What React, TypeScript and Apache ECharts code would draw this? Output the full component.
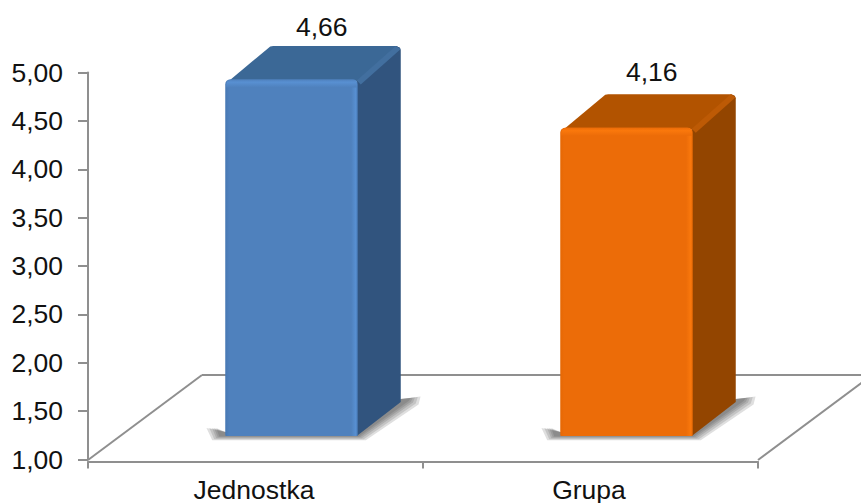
import React, { useEffect, useRef } from "react";
import * as echarts from "echarts";

const categories = ["Jednostka", "Grupa"];
const values = [4.66, 4.16];
const faces = [
  { front: "#4F81BD", light: "#5890D2", dark: "#4778B3", top: "#3B6896", side: "#31547E", edge: "#426F9F" },
  { front: "#EC6C08", light: "#FA780C", dark: "#E56805", top: "#B25300", side: "#934500", edge: "#BD5A05" },
];
const labelNudges = [
  { x: -79, y: -18.5 },
  { x: -84, y: -21.5 },
];

const fmt = (v: number) => v.toFixed(2).replace(".", ",");

const LEFT = 88;
const TOP = 72.5;
const WIDTH = 670;
const HEIGHT = 387;
const FONT = "Liberation Sans";
const FONT_SIZE = 26.5;
const AXIS = "#8F8F8F";

const renderBar = (params: any, api: any) => {
  const i = api.value(0);
  const [cx, y1] = api.coord([i, api.value(1)]);
  const [, y0] = api.coord([i, 1]);
  const w = 132.5;
  const dx = 43;
  const dy = 34;
  const dyTop = 33.5;
  const x0 = cx + 36 - w / 2;
  const x1 = x0 + w;
  const yt = y1 - 26;
  const yb = y0 - 23.5;
  const f = faces[i];
  const poly = (points: number[][], fill: string, extra: any = {}) => ({
    type: "polygon",
    shape: { points },
    style: { fill, ...extra },
  });
  const shadowLayers = [7, 5, 3, 1.5, 0].map((g) =>
    poly(
      [
        [x0 - 9 - g * 1.4, yb - 8],
        [x0 - 6 - g, yb + 0.5 + g * 0.55],
        [x1 + 1 + g, yb + 0.5 + g * 0.55],
        [x1 + dx + 8 + g * 1.4, yb - dy - 1 + g * 0.5],
        [x1 + dx + 10 + g * 1.4, yb - dy - 4 - g * 0.2],
        [x1 + dx, yb - dy - 3],
        [x1, yb - 3],
        [x0, yb - 4],
      ],
      "#444444",
      { opacity: 0.17 }
    )
  );
  return {
    type: "group",
    children: [
      ...shadowLayers,
      poly(
        [
          [x0 + 3, yt + 2],
          [x0 + dx + 2, yt - dyTop + 0.5],
          [x0 + dx + 5, yt - dyTop],
          [x1 + dx - 4, yt - dyTop],
          [x1 + dx - 1, yt - dyTop + 2],
          [x1, yt + 2],
        ],
        f.top
      ),
      poly(
        [
          [x1 - 1, yt + 2],
          [x1 + dx - 4, yt - dyTop + 0.5],
          [x1 + dx - 1, yt - dyTop + 1.5],
          [x1 + dx, yt - dyTop + 4],
          [x1 + dx, yb - dy],
          [x1 - 1, yb],
        ],
        f.side
      ),
      poly(
        [
          [x1 - 1, yt + 1],
          [x1 + dx - 5, yt - dyTop],
          [x1 + dx, yt - dyTop + 3],
          [x1 + 3, yt + 5],
        ],
        f.edge
      ),
      {
        type: "rect",
        shape: { x: x0, y: yt, width: w, height: yb - yt, r: [5, 5, 1, 1] },
        style: {
          fill: new echarts.graphic.LinearGradient(0, 0, 1, 0, [
            { offset: 0, color: f.dark },
            { offset: 0.03, color: f.front },
            { offset: 0.95, color: f.front },
            { offset: 0.985, color: f.light },
            { offset: 1, color: f.dark },
          ]),
        },
      },
      {
        type: "rect",
        shape: { x: x0 + 1, y: yt, width: w - 2, height: 8, r: [5, 5, 0, 0] },
        style: {
          fill: new echarts.graphic.LinearGradient(0, 0, 0, 1, [
            { offset: 0, color: f.front },
            { offset: 0.35, color: f.light },
            { offset: 1, color: f.front },
          ]),
        },
      },
      {
        type: "text",
        style: {
          x: x1 + dx + labelNudges[i].x,
          y: yt - dy + labelNudges[i].y,
          text: fmt(api.value(1)),
          align: "center",
          verticalAlign: "middle",
          font: `${FONT_SIZE}px "${FONT}"`,
          fill: "#111111",
        },
      },
    ],
  };
};

const floorLine = (shape: any) => ({
  type: "line",
  silent: true,
  shape,
  style: { stroke: AXIS, lineWidth: 2 },
});

export default function App() {
  const ref = useRef<HTMLDivElement>(null);

  useEffect(() => {
    const chart = echarts.init(ref.current!, undefined, { renderer: "svg" });
    chart.setOption({
      animation: false,
      backgroundColor: "#FFFFFF",
      grid: {
        left: LEFT,
        top: TOP,
        width: WIDTH,
        height: HEIGHT,
        containLabel: false,
        outerBoundsMode: "none",
      },
      xAxis: {
        type: "category",
        data: categories,
        offset: 2,
        axisLine: { onZero: false, lineStyle: { color: AXIS, width: 2 } },
        axisTick: { show: true, length: 7, lineStyle: { color: AXIS, width: 2 } },
        axisLabel: {
          color: "#111111",
          fontFamily: FONT,
          fontSize: FONT_SIZE,
          margin: 14.5,
          padding: [0, 3, 0, 0],
        },
      },
      yAxis: {
        type: "value",
        min: 1,
        max: 5,
        interval: 0.5,
        splitLine: { show: false },
        axisLine: { show: true, lineStyle: { color: AXIS, width: 2 } },
        axisTick: { show: true, length: 10, lineStyle: { color: AXIS, width: 2 } },
        axisLabel: {
          color: "#111111",
          fontFamily: FONT,
          fontSize: FONT_SIZE,
          margin: 25,
          formatter: (v: number) => fmt(v),
        },
      },
      graphic: [
        floorLine({ x1: 88, y1: 460, x2: 202, y2: 375 }),
        floorLine({ x1: 202, y1: 375, x2: 861, y2: 375 }),
        floorLine({ x1: 758, y1: 460, x2: 872, y2: 375 }),
      ],
      series: [
        {
          type: "custom",
          clip: false,
          renderItem: renderBar,
          encode: { x: 0, y: 1 },
          data: values.map((v, i) => [i, v]),
        },
      ],
    });
    return () => chart.dispose();
  }, []);

  return <div ref={ref} style={{ position: "absolute", left: 0, top: 0, width: 861, height: 503 }} />;
}
